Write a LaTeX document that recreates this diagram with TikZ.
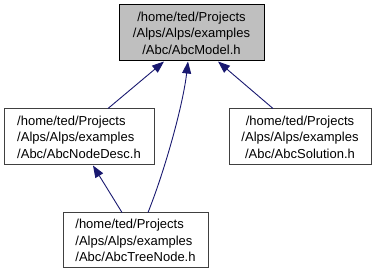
\documentclass[tikz,border=0pt]{standalone}
\usepackage{fontspec}
\setmainfont{Liberation Sans}
\usepackage{tikz}
\usepackage{xcolor}
\usetikzlibrary{positioning, arrows.meta}
\definecolor{cEdge}  {HTML}{191970}
\definecolor{cFocus} {HTML}{BFBFBF}
\definecolor{cFrame} {HTML}{404040}

\tikzset{
  file/.style={draw=cFrame, fill=white, line width=1pt, minimum height=56pt,
    inner sep=0pt, font=\fontsize{13}{16.5}\selectfont},
  dep/.style={cEdge, line width=0.9pt, -{Triangle[length=12pt, width=9pt]}},
}

\begin{document}
\begin{tikzpicture}[x=1pt, y=-1pt]
  \useasboundingbox (0, 0) rectangle (378, 275);

  \node[file, fill=cFocus, draw=black, minimum width=145pt, align=center] (model) at (191.5, 33)
    {/home/ted/Projects\\/Alps/Alps/examples\\/Abc/AbcModel.h};
  \node[file, minimum width=150pt, align=left] (desc) at (79, 137)
    {/home/ted/Projects\\/Alps/Alps/examples\\/Abc/AbcNodeDesc.h};
  \node[file, minimum width=142pt, align=center] (sol) at (300, 137)
    {/home/ted/Projects\\/Alps/Alps/examples\\/Abc/AbcSolution.h};
  \node[file, minimum width=145pt, minimum height=55pt, align=left] (tree) at (135.5, 240.5)
    {/home/ted/Projects\\/Alps/Alps/examples\\/Abc/AbcTreeNode.h};

  % includes point back at the header they pull in
  \draw[dep] ([xshift=29pt]desc.north) -- ([xshift=-27.5pt]model.south);
  \draw[dep] ([xshift=-27pt]sol.north) -- ([xshift=26.5pt]model.south);
  \draw[dep] ([xshift=12.5pt]tree.north) .. controls (165, 170) and (183, 105) .. ([xshift=-3.5pt]model.south);
  \draw[dep] ([xshift=-13.5pt]tree.north) -- ([xshift=14pt]desc.south);
\end{tikzpicture}
\end{document}
